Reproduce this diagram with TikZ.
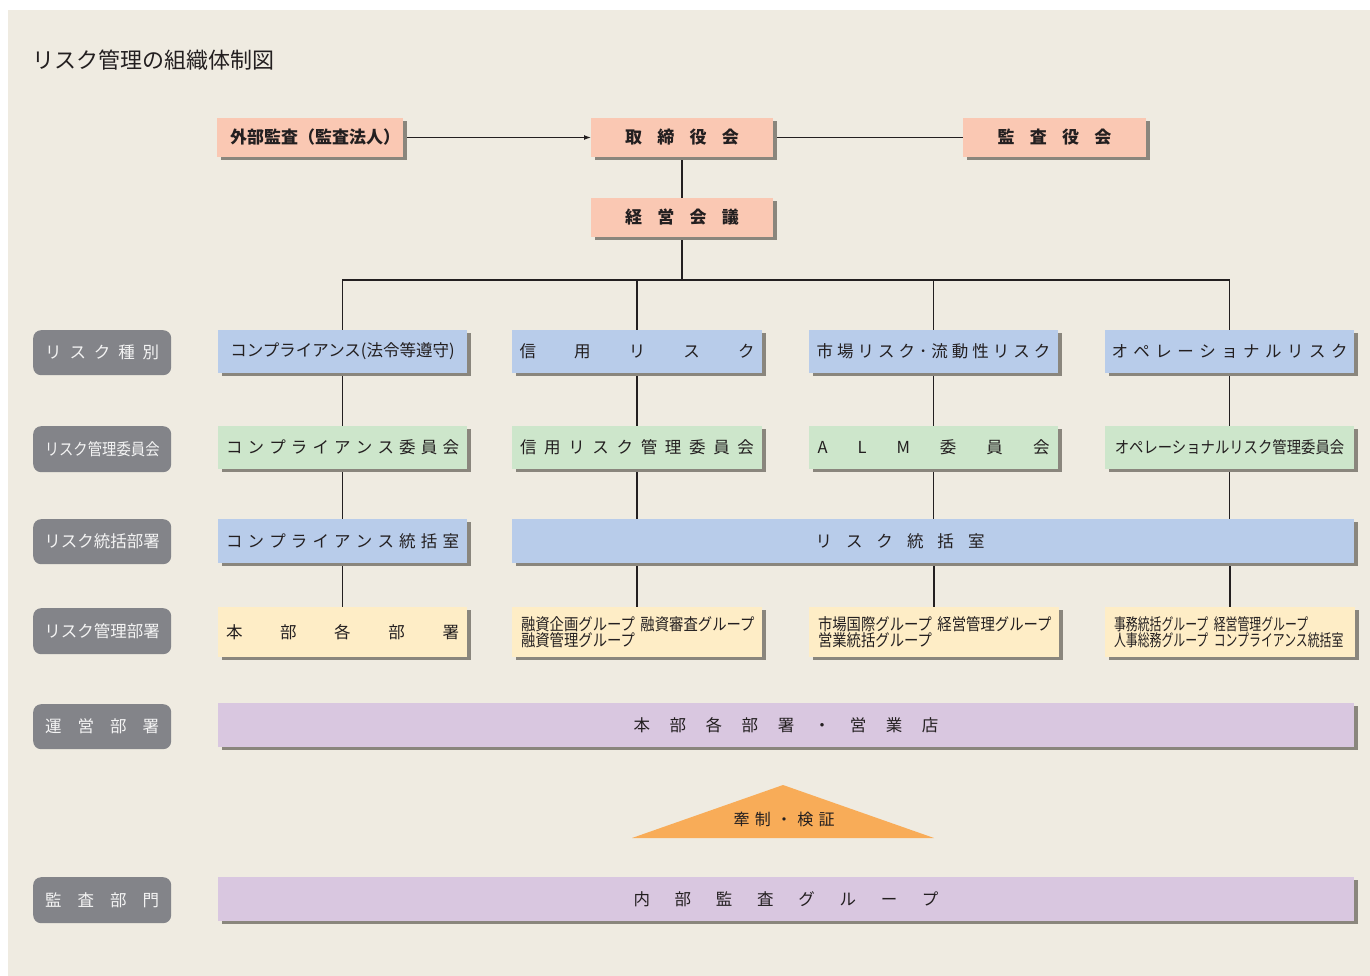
\documentclass[tikz,border=0pt]{standalone}
\usepackage{fontspec}
\setmainfont{Noto Sans CJK JP}
\newfontfamily\jpc[FakeStretch=0.87]{Noto Sans CJK JP}
\newfontfamily\jpcc[FakeStretch=0.72]{Noto Sans CJK JP}
\usetikzlibrary{arrows.meta,shadows}

\definecolor{bgc}{HTML}{EFEBE1}
\definecolor{shade}{HTML}{8A867D}
\definecolor{pinkc}{HTML}{FAC8B3}
\definecolor{bluec}{HTML}{B8CCEA}
\definecolor{greenc}{HTML}{CDE6CB}
\definecolor{yellowc}{HTML}{FEEDC6}
\definecolor{purplec}{HTML}{D9C7E0}
\definecolor{labelc}{HTML}{838489}
\definecolor{labtext}{HTML}{F4F4F4}
\definecolor{orangec}{HTML}{F8AC58}
\definecolor{inkc}{HTML}{231F20}

% letter-spaced text: the glyphs are spread evenly over the given width
\makeatletter
\newcommand\spaced[2]{\makebox[#1]{\spaced@first#2\relax}}
\def\spaced@first#1{\ifx#1\relax\else#1\expandafter\spaced@rest\fi}
\def\spaced@rest#1{\ifx#1\relax\else\hfill#1\expandafter\spaced@rest\fi}
\makeatother

\pgfdeclarelayer{back}
\pgfsetlayers{back,main}

\tikzset{
  wh/.style 2 args={minimum width=#1pt, minimum height=#2pt},
  box/.style={anchor=north west, inner sep=0pt, outer sep=0pt, text=inkc,
    font=\fontsize{16.5}{18}\selectfont,
    drop shadow={shadow xshift=4pt, shadow yshift=-3pt, fill=shade, opacity=1}},
  topbox/.style={box, fill=pinkc, font=\bfseries\fontsize{17}{18}\selectfont},
  riskbox/.style={box, fill=bluec},
  combox/.style={box, fill=greenc},
  deptbox/.style={box, fill=yellowc},
  opbox/.style={box, fill=purplec},
  grpbox/.style={deptbox, text width=232pt, inner xsep=9pt, inner ysep=0pt,
    align=left, wh={250}{50}, font=\jpc\fontsize{16.5}{16}\selectfont},
  lab/.style={anchor=north west, fill=labelc, rounded corners=8pt, text=labtext,
    inner sep=0pt, minimum width=138pt, font=\fontsize{16.5}{18}\selectfont},
  conn/.style={draw=inkc, line width=1.2pt},
}

\begin{document}
\begin{tikzpicture}[x=1pt,y=-1pt]
\useasboundingbox (0,0) rectangle (1370,976);

% title
\node[anchor=west, inner sep=0pt, text=inkc, font=\fontsize{22}{24}\selectfont]
  (title) at (32,60) {リスク管理の組織体制図};

% governing bodies
\node[topbox, wh={186}{39}] (gaibu) at (217,118) {\hspace*{10pt}外部監査（監査法人）};
\node[topbox, wh={182}{39}] (tori)  at (591,118) {\spaced{114pt}{取締役会}};
\node[topbox, wh={183}{39}] (kansa) at (963,118) {\spaced{114pt}{監査役会}};
\node[topbox, wh={182}{39}] (keiei) at (591,198) {\spaced{114pt}{経営会議}};

% row labels
\node[lab, minimum height=45pt] (l1) at (33,330) {\spaced{114pt}{リスク種別}};
\node[lab, minimum height=46pt, font=\jpc\fontsize{16.5}{18}\selectfont] (l2) at (33,426) {リスク管理委員会};
\node[lab, minimum height=45pt] (l3) at (33,519) {リスク統括部署};
\node[lab, minimum height=46pt] (l4) at (33,608) {リスク管理部署};
\node[lab, minimum height=45pt] (l5) at (33,704) {\spaced{114pt}{運営部署}};
\node[lab, minimum height=46pt] (l6) at (33,877) {\spaced{114pt}{監査部門}};

% risk categories
\node[riskbox, wh={249}{43}] (r1c1) at (218,330) {コンプライアンス(法令等遵守)};
\node[riskbox, wh={250}{43}] (r1c2) at (512,330) {\spaced{235pt}{信用リスク}};
\node[riskbox, wh={249}{43}] (r1c3) at (809,330) {\spaced{234pt}{市場リスク･流動性リスク}};
\node[riskbox, wh={249}{43}] (r1c4) at (1105,330) {\spaced{236pt}{オペレーショナルリスク}};

% committees
\node[combox, wh={249}{43}] (r2c1) at (218,426) {\spaced{233pt}{コンプライアンス委員会}};
\node[combox, wh={250}{43}] (r2c2) at (512,426) {\spaced{234pt}{信用リスク管理委員会}};
\node[combox, wh={249}{43}] (r2c3) at (809,426) {\spaced{232pt}{ALM委員会}};
\node[combox, wh={249}{43}, font=\jpc\fontsize{16.5}{18}\selectfont] (r2c4) at (1105,426) {オペレーショナルリスク管理委員会};

% supervising offices
\node[riskbox, wh={249}{44}] (r3c1) at (218,519) {\spaced{233pt}{コンプライアンス統括室}};
\node[riskbox, wh={842}{44}] (r3w)  at (512,519) {\spaced{169pt}{リスク統括室}\hspace*{66pt}};

% managing departments
\node[deptbox, wh={249}{50}] (r4c1) at (218,607) {\spaced{233pt}{本部各部署}};
\node[grpbox] (r4c2) at (512,607) {\mbox{融資企画グループ 融資審査グループ}\\\mbox{融資管理グループ}};
\node[grpbox] (r4c3) at (809,607) {\mbox{市場国際グループ 経営管理グループ}\\\mbox{営業統括グループ}};
\node[grpbox, font=\jpcc\fontsize{16.5}{16}\selectfont] (r4c4) at (1105,607) {\mbox{事務統括グループ 経営管理グループ}\\\mbox{人事総務グループ コンプライアンス統括室}};

% operating departments and internal audit
\node[opbox, wh={1136}{43.5}] (ops) at (218,703) {\spaced{305pt}{本部各部署・営業店}};
\node[opbox, wh={1136}{43.5}] (audit) at (218,877) {\spaced{305pt}{内部監査グループ}};

% check and verification wedge
\fill[orangec] (632,838) -- (783,785) -- (934,838) -- cycle;
\node[inner sep=0pt, text=inkc, font=\fontsize{16}{18}\selectfont] (kensei) at (784,819) {\spaced{101pt}{牽制・検証}};

% background and connectors
\begin{pgfonlayer}{back}
  \fill[white] (0,0) rectangle (1370,976);
  \fill[bgc] (8,10) rectangle (1370,976);
  \draw[conn, -{Latex[length=7pt,width=5pt]}] (gaibu.east) -- (tori.west);
  \draw[conn] (tori.east) -- (kansa.west);
  \draw[conn] (tori.south) -- (keiei.north);
  \coordinate (bus) at (682,280);
  \draw[conn] (keiei.south) -- (bus);
  \draw[conn] (r1c1.north) |- (bus) -| (r1c4.north);
  \draw[conn] (r1c2.north) -- (r1c2.north |- bus);
  \draw[conn] (r1c3.north) -- (r1c3.north |- bus);
  \foreach \c in {1,2,3,4} {
    \draw[conn] (r1c\c.south) -- (r2c\c.north);
  }
  \draw[conn] (r2c1.south) -- (r3c1.north);
  \draw[conn] (r3c1.south) -- (r4c1.north);
  \foreach \c in {2,3,4} {
    \draw[conn] (r2c\c.south) -- (r2c\c.south |- r3w.north);
    \draw[conn] (r4c\c.north |- r3w.south) -- (r4c\c.north);
  }
\end{pgfonlayer}
\end{tikzpicture}
\end{document}
